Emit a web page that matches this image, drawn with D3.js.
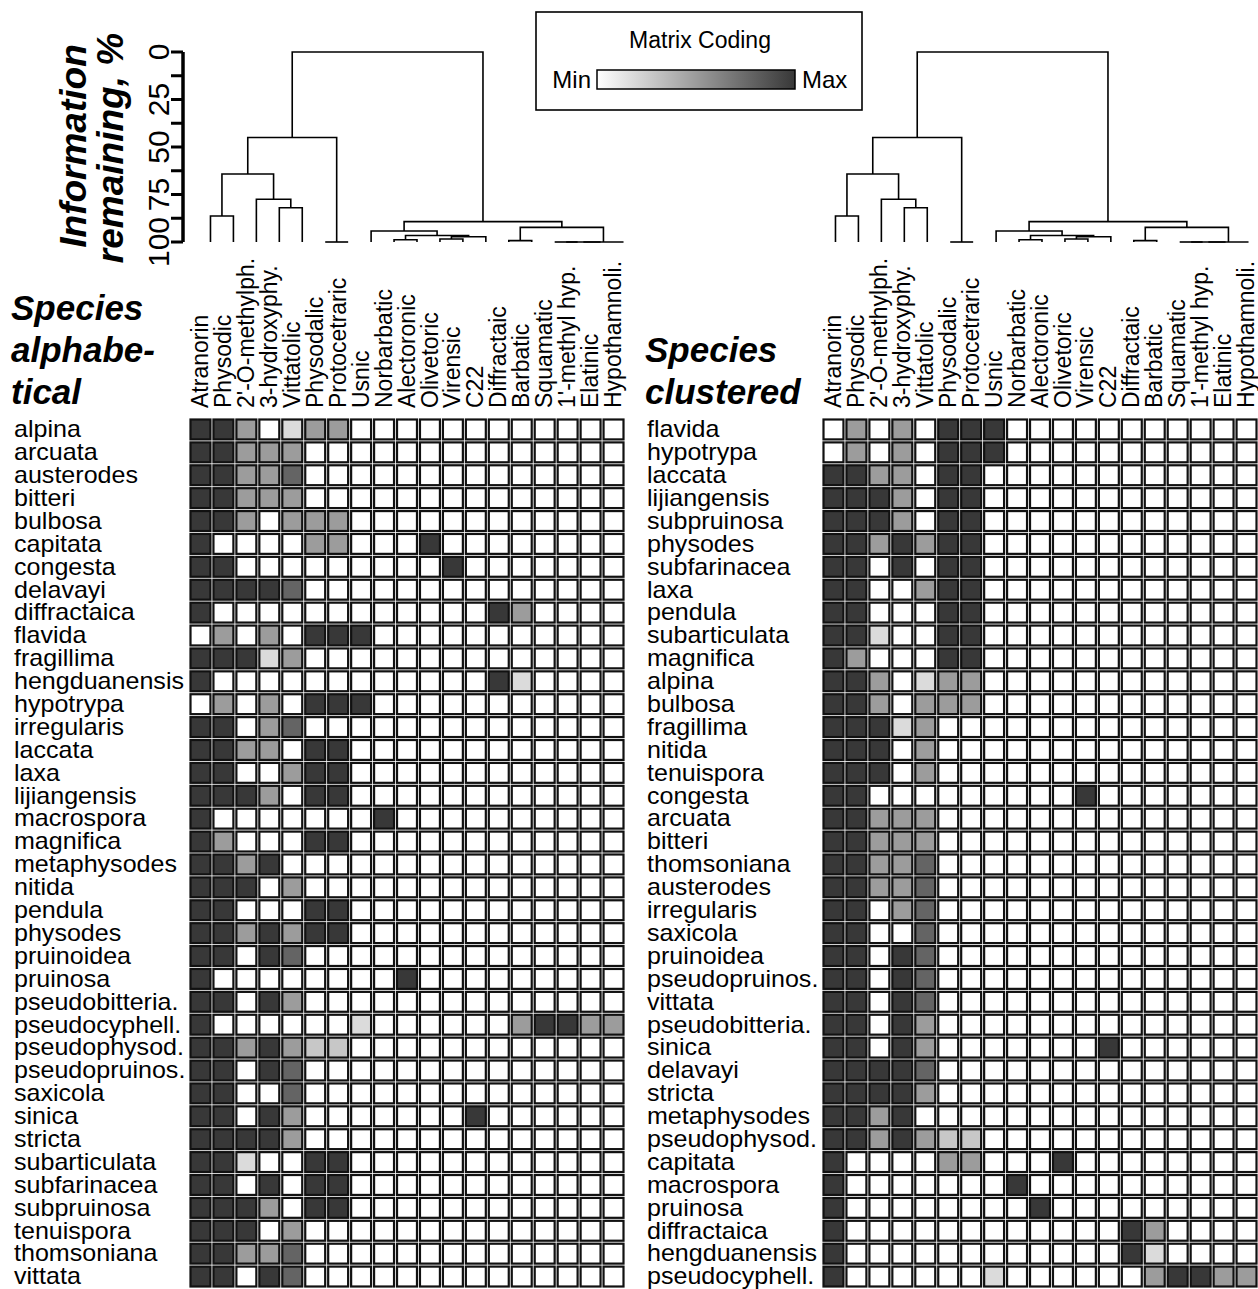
<!DOCTYPE html>
<html><head><meta charset="utf-8">
<script src="https://cdn.jsdelivr.net/npm/d3@7"></script>
<style>
body{margin:0;background:#fff}
svg{display:block}
text{font-family:"Liberation Sans",Arial,sans-serif;fill:#000}
</style>
</head><body>
<svg id="chart" width="1258" height="1289"></svg>
<script>
// ---------------- DATA ----------------
const chemicals = ["Atranorin","Physodic","2'-O-methylph.","3-hydroxyphy.","Vittatolic","Physodalic","Protocetraric","Usnic","Norbarbatic","Alectoronic","Olivetoric","Virensic","C22","Diffractaic","Barbatic","Squamatic","1'-methyl hyp.","Elatinic","Hypothamnoli."];

const species = ["alpina","arcuata","austerodes","bitteri","bulbosa","capitata","congesta","delavayi","diffractaica","flavida","fragillima","hengduanensis","hypotrypa","irregularis","laccata","laxa","lijiangensis","macrospora","magnifica","metaphysodes","nitida","pendula","physodes","pruinoidea","pruinosa","pseudobitteria.","pseudocyphell.","pseudophysod.","pseudopruinos.","saxicola","sinica","stricta","subarticulata","subfarinacea","subpruinosa","tenuispora","thomsoniana","vittata"];

// matrix coding, one row per species (alphabetical), one value per chemical (0 = min, 1 = max)
const coding = [
 [1,1,.5,0,.18,.5,.5,0,0,0,0,0,0,0,0,0,0,0,0],
 [1,1,.5,.5,.5,0,0,0,0,0,0,0,0,0,0,0,0,0,0],
 [1,1,.5,.5,.78,0,0,0,0,0,0,0,0,0,0,0,0,0,0],
 [1,1,.5,.5,.5,0,0,0,0,0,0,0,0,0,0,0,0,0,0],
 [1,1,.5,0,.5,.5,.5,0,0,0,0,0,0,0,0,0,0,0,0],
 [1,0,0,0,0,.5,.5,0,0,0,1,0,0,0,0,0,0,0,0],
 [1,1,0,0,0,0,0,0,0,0,0,1,0,0,0,0,0,0,0],
 [1,1,1,1,.78,0,0,0,0,0,0,0,0,0,0,0,0,0,0],
 [1,0,0,0,0,0,0,0,0,0,0,0,0,1,.5,0,0,0,0],
 [0,.5,0,.5,0,1,1,1,0,0,0,0,0,0,0,0,0,0,0],
 [1,1,1,.18,.5,0,0,0,0,0,0,0,0,0,0,0,0,0,0],
 [1,0,0,0,0,0,0,0,0,0,0,0,0,1,.18,0,0,0,0],
 [0,.5,0,.5,0,1,1,1,0,0,0,0,0,0,0,0,0,0,0],
 [1,1,0,.5,.78,0,0,0,0,0,0,0,0,0,0,0,0,0,0],
 [1,1,.5,.5,0,1,1,0,0,0,0,0,0,0,0,0,0,0,0],
 [1,1,0,0,.5,1,1,0,0,0,0,0,0,0,0,0,0,0,0],
 [1,1,1,.5,0,1,1,0,0,0,0,0,0,0,0,0,0,0,0],
 [1,0,0,0,0,0,0,0,1,0,0,0,0,0,0,0,0,0,0],
 [1,.5,0,0,0,1,1,0,0,0,0,0,0,0,0,0,0,0,0],
 [1,1,.5,1,0,0,0,0,0,0,0,0,0,0,0,0,0,0,0],
 [1,1,1,0,.5,0,0,0,0,0,0,0,0,0,0,0,0,0,0],
 [1,1,0,0,0,1,1,0,0,0,0,0,0,0,0,0,0,0,0],
 [1,1,.5,1,.5,1,1,0,0,0,0,0,0,0,0,0,0,0,0],
 [1,1,0,1,.78,0,0,0,0,0,0,0,0,0,0,0,0,0,0],
 [1,0,0,0,0,0,0,0,0,1,0,0,0,0,0,0,0,0,0],
 [1,1,0,1,.5,0,0,0,0,0,0,0,0,0,0,0,0,0,0],
 [1,0,0,0,0,0,0,.18,0,0,0,0,0,0,.5,1,1,.5,.5],
 [1,1,.5,1,.5,.28,.28,0,0,0,0,0,0,0,0,0,0,0,0],
 [1,1,0,1,.78,0,0,0,0,0,0,0,0,0,0,0,0,0,0],
 [1,1,0,0,.78,0,0,0,0,0,0,0,0,0,0,0,0,0,0],
 [1,1,0,1,.5,0,0,0,0,0,0,0,1,0,0,0,0,0,0],
 [1,1,1,1,.5,0,0,0,0,0,0,0,0,0,0,0,0,0,0],
 [1,1,.18,0,0,1,1,0,0,0,0,0,0,0,0,0,0,0,0],
 [1,1,0,1,0,1,1,0,0,0,0,0,0,0,0,0,0,0,0],
 [1,1,1,.5,0,1,1,0,0,0,0,0,0,0,0,0,0,0,0],
 [1,1,1,0,.5,0,0,0,0,0,0,0,0,0,0,0,0,0,0],
 [1,1,.5,.5,.78,0,0,0,0,0,0,0,0,0,0,0,0,0,0],
 [1,1,0,1,.78,0,0,0,0,0,0,0,0,0,0,0,0,0,0]
];

const clusterOrder = ["flavida","hypotrypa","laccata","lijiangensis","subpruinosa","physodes","subfarinacea","laxa","pendula","subarticulata","magnifica","alpina","bulbosa","fragillima","nitida","tenuispora","congesta","arcuata","bitteri","thomsoniana","austerodes","irregularis","saxicola","pruinoidea","pseudopruinos.","vittata","pseudobitteria.","sinica","delavayi","stricta","metaphysodes","pseudophysod.","capitata","macrospora","pruinosa","diffractaica","hengduanensis","pseudocyphell."];

// chemical dendrogram (R hclust style merges: negative = leaf index+1, positive = earlier merge), height = information remaining %
const merges = [
 [-6,-7,100],
 [-16,-17,100],
 [2,-18,100],
 [3,-19,100],
 [-14,-15,99.3],
 [-9,-10,98.8],
 [-11,-12,98.4],
 [7,-13,97.2],
 [6,8,96.6],
 [-8,9,94.2],
 [-4,-5,82],
 [-3,11,77.5],
 [-1,-2,86.3],
 [13,12,64.2],
 [14,1,45],
 [5,4,92.3],
 [10,16,89.3],
 [15,17,0]
];
const axisTicks = [0,12.5,25,37.5,50,62.5,75,87.5,100];
const axisLabels = [0,25,50,75,100];

// ---------------- DRAW ----------------
const svg = d3.select("#chart");
const color = d3.scaleLinear().domain([0,1]).range(["#ffffff","#383838"]);

const yRows = d3.scaleBand().domain(species).range([418,1288]);
const yRowsC = d3.scaleBand().domain(clusterOrder).range([418,1288]);
const xL = d3.scaleBand().domain(chemicals).range([189,625]);
const xR = d3.scaleBand().domain(chemicals).range([822,1258]);
const yDen = d3.scaleLinear().domain([0,100]).range([52,242]);

function drawMatrix(xs, ys, labelX) {
  const g = svg.append("g");
  const cells = [];
  species.forEach((s,i)=>chemicals.forEach((c,j)=>cells.push({s,c,v:coding[i][j]})));
  g.selectAll("rect").data(cells).join("rect")
    .attr("x", d=>xs(d.c)+1.5).attr("y", d=>ys(d.s)+1.5)
    .attr("width", xs.bandwidth()-3).attr("height", ys.bandwidth()-3)
    .attr("fill", d=>color(d.v)).attr("stroke","#111").attr("stroke-width",2.2);
  g.selectAll("text.row").data(species).join("text").attr("class","row")
    .attr("transform", d=>`translate(${labelX},${ys(d)+ys.bandwidth()/2}) scale(1.09,1)`)
    .attr("dy","0.34em").style("font-size","23px").text(d=>d);
  g.selectAll("text.col").data(chemicals).join("text").attr("class","col")
    .attr("transform", d=>`translate(${xs(d)+xs.bandwidth()/2},408) rotate(-90)`)
    .attr("dy","0.33em").style("font-size","23px").text(d=>d);
}
drawMatrix(xL, yRows, 14);
drawMatrix(xR, yRowsC, 647);

function drawDendro(xs, offset) {
  const g = svg.append("g").attr("fill","none").attr("stroke","#000").attr("stroke-width",1.6);
  const pos = [];
  const node = (k)=> k<0 ? {x: xs(chemicals[-k-1])+xs.bandwidth()/2+offset, y: yDen(100)} : pos[k-1];
  merges.forEach(([a,b,h])=>{
    const A = node(a), B = node(b), y = yDen(h);
    g.append("path").attr("d", d3.line()([[A.x,A.y],[A.x,y],[B.x,y],[B.x,B.y]]));
    pos.push({x:(A.x+B.x)/2, y});
  });
}
drawDendro(xL, 10);
drawDendro(xR, 2);

// axis
const ax = svg.append("g").attr("transform","translate(183,0)");
ax.append("line").attr("y1",yDen(0)).attr("y2",yDen(100)).attr("stroke","#000").attr("stroke-width",3.5);
ax.selectAll("line.t").data(axisTicks).join("line").attr("class","t")
  .attr("x1",-12).attr("x2",0).attr("y1",d=>yDen(d)).attr("y2",d=>yDen(d))
  .attr("stroke","#000").attr("stroke-width",3);
ax.selectAll("text").data(axisLabels).join("text")
  .attr("transform", d=>`translate(-14,${yDen(d)}) rotate(-90)`)
  .attr("text-anchor","middle").style("font-size","30px").text(d=>d);

// axis title
const tt = svg.append("g").style("font-weight","bold").style("font-style","italic").style("font-size","37px");
tt.append("text").attr("transform","translate(86,146) rotate(-90)").attr("text-anchor","middle").text("Information");
tt.append("text").attr("transform","translate(123,148) rotate(-90)").attr("text-anchor","middle").text("remaining, %");

// headers
const hd = svg.append("g").style("font-weight","bold").style("font-style","italic").style("font-size","35px");
[["Species",320],["alphabe-",362],["tical",404]].forEach(([t,y])=>hd.append("text").attr("x",11).attr("y",y).text(t));
[["Species",362],["clustered",404]].forEach(([t,y])=>hd.append("text").attr("x",645).attr("y",y).text(t));

// legend
const defs = svg.append("defs");
const grad = defs.append("linearGradient").attr("id","lg");
grad.append("stop").attr("offset","0%").attr("stop-color",color(0));
grad.append("stop").attr("offset","100%").attr("stop-color",color(1));
const lg = svg.append("g");
lg.append("rect").attr("x",536).attr("y",12).attr("width",326).attr("height",98).attr("fill","#fff").attr("stroke","#000").attr("stroke-width",1.6);
lg.append("text").attr("x",700).attr("y",48).attr("text-anchor","middle").style("font-size","23px").text("Matrix Coding");
lg.append("rect").attr("x",597).attr("y",70).attr("width",198).attr("height",19).attr("fill","url(#lg)").attr("stroke","#000").attr("stroke-width",1.5);
lg.append("text").attr("x",591).attr("y",88).attr("text-anchor","end").style("font-size","24px").text("Min");
lg.append("text").attr("x",802).attr("y",88).style("font-size","24px").text("Max");
</script>
</body></html>
